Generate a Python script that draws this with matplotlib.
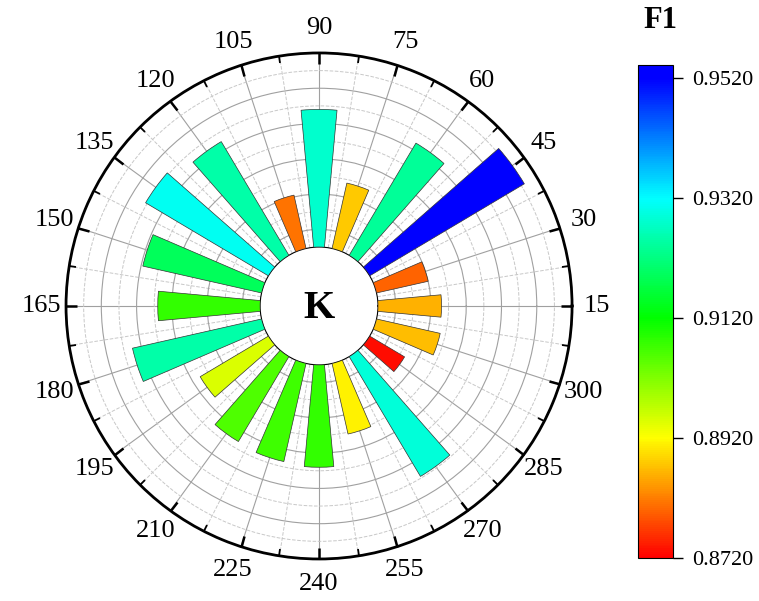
import numpy as np
import matplotlib
matplotlib.use('Agg')
import matplotlib.pyplot as plt
from matplotlib.colors import LinearSegmentedColormap, Normalize
from matplotlib.cm import ScalarMappable
from matplotlib.ticker import FormatStrFormatter

# K values around the dial and the F1 score for each
k_values = [15, 30, 45, 60, 75, 90, 105, 120, 135, 150,
            165, 180, 195, 210, 225, 240, 255, 270, 285, 300]
f1_scores = [0.886, 0.880, 0.952, 0.924, 0.888, 0.928, 0.881, 0.925, 0.931, 0.919,
             0.908, 0.925, 0.895, 0.906, 0.907, 0.908, 0.891, 0.929, 0.873, 0.887]

# colour scale
cbar_ticks = [0.872, 0.892, 0.912, 0.932, 0.952]
cbar_colors = ['#ff0000', '#ffff00', '#00ff00', '#00ffff', '#0000ff']
F1_MIN, F1_MAX = 0.872, 0.9542

# radial range and the empty hole in the middle
R_MIN, R_MAX = 0.85, 0.96
HOLE = 0.233  # fraction of the radius left blank
major_r = [0.86, 0.88, 0.90, 0.92, 0.94]
minor_r = [0.87, 0.89, 0.91, 0.93, 0.95]

plt.rcParams['font.family'] = ['Liberation Serif', 'DejaVu Serif']

nodes = [(t - F1_MIN) / (F1_MAX - F1_MIN) for t in cbar_ticks] + [1.0]
cmap = LinearSegmentedColormap.from_list('f1', list(zip(nodes, cbar_colors + [cbar_colors[-1]])))
norm = Normalize(F1_MIN, F1_MAX)

fig = plt.figure(figsize=(7.59, 6.01), dpi=100)
ax = fig.add_axes([0.087, 0.0699, 0.6667, 0.842], projection='polar')

n = len(k_values)
theta = np.arange(n) * 2 * np.pi / n
scores = np.array(f1_scores)
ax.bar(theta, scores - R_MIN, width=np.deg2rad(10.5), bottom=R_MIN,
       color=cmap(norm(scores)), edgecolor='#333333', linewidth=0.5, zorder=3)

ax.set_ylim(R_MIN, R_MAX)
ax.set_rorigin((R_MIN - HOLE * R_MAX) / (1 - HOLE))
ax.set_axisbelow(True)

ax.set_xticks(theta)
ax.set_xticklabels([str(k) for k in k_values], fontsize=19)
ax.set_xticks(theta + np.pi / n, minor=True)
ax.set_yticks(major_r)
ax.set_yticks(minor_r, minor=True)
ax.set_yticklabels([])
ax.yaxis.set_tick_params(which='both', length=0, labelleft=False, labelright=False)

ax.grid(which='major', color='#a0a0a0', linestyle='-', linewidth=0.8)
ax.grid(which='minor', color='#c8c8c8', linestyle='--', linewidth=0.7)
# theta ticks live on the outer circle (tick2), pointing inwards
ax.tick_params(axis='x', which='both', top=True, bottom=False, labelbottom=True)
ax.tick_params(axis='x', which='major', direction='in', length=8, width=1.8, pad=11)
ax.tick_params(axis='x', which='minor', direction='in', length=5, width=1.3)

ax.spines['polar'].set_linewidth(2)
ax.spines['inner'].set_visible(False)

ax.text(0.5, 0.5 - 3 / 506, 'K', transform=ax.transAxes, ha='center', va='center',
        fontsize=29, fontweight='bold')

# colour bar on the right
cax = fig.add_axes([0.8406, 0.0715, 0.0461, 0.8203])
cb = fig.colorbar(ScalarMappable(norm=norm, cmap=cmap), cax=cax, ticks=cbar_ticks)
cb.ax.yaxis.set_major_formatter(FormatStrFormatter('%.4f'))
cb.ax.tick_params(labelsize=16, length=7, width=1, pad=7)
cb.ax.minorticks_off()
cb.outline.set_linewidth(0.8)
fig.text(0.8696, 1 - 21 / 601, 'F1', ha='center', va='center',
         fontsize=22, fontweight='bold')

fig.savefig('out.png', dpi=100)
